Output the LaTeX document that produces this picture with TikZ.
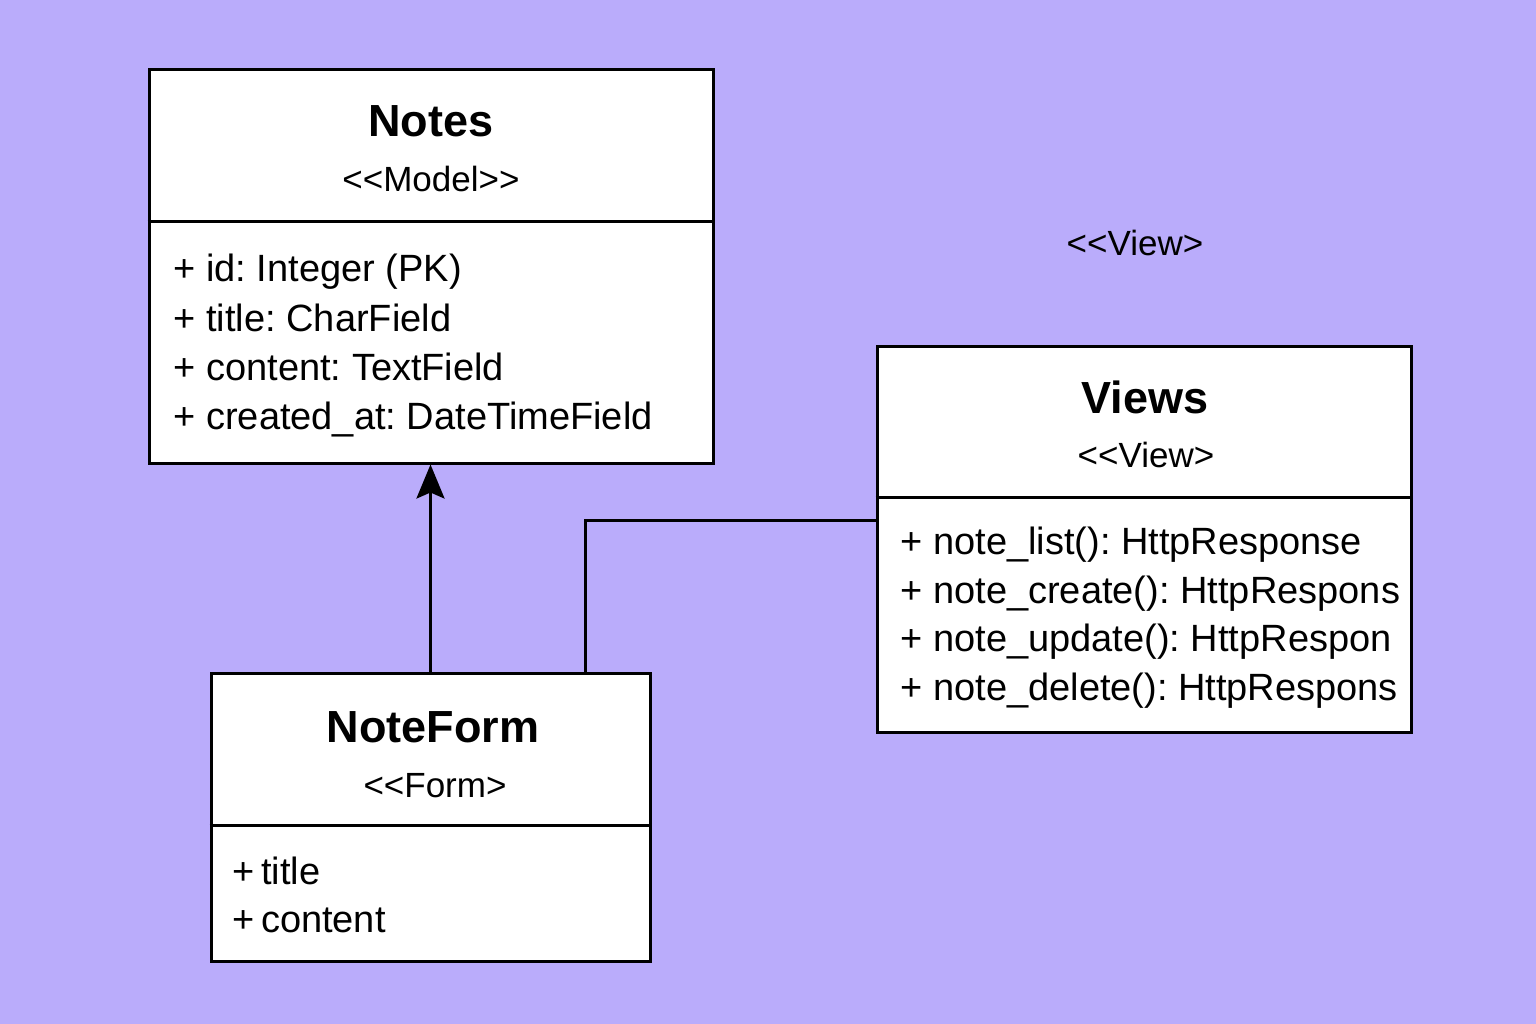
\documentclass[tikz,border=0pt]{standalone}
\usepackage{fontspec}
\setmainfont{Liberation Sans}
\usetikzlibrary{arrows.meta}
\definecolor{lilac}{RGB}{186,172,251}
\frenchspacing
\tikzset{classbox/.style={draw, fill=white, line width=3pt, inner sep=0pt},
         cname/.style={anchor=base, font=\fontsize{45}{54}\bfseries},
         stereo/.style={anchor=base, font=\fontsize{35}{42}\selectfont},
         member/.style={anchor=base west, font=\fontsize{38}{46}\selectfont},
         link/.style={line width=3pt},
         gen/.style={link, -{Stealth[length=34pt,width=28pt,inset=6pt]}}
        }

\begin{document}
\begin{tikzpicture}[x=1pt,y=-1pt]
\fill[lilac] (0,0) rectangle (1536,1024);
% class boxes
\node[classbox, minimum width=564pt, minimum height=393pt] (notes) at (431,266.5) {};
\node[classbox, minimum width=534pt, minimum height=386pt] (views) at (1144,539) {};
\node[classbox, minimum width=439pt, minimum height=288pt] (form) at (430.5,817) {};
\draw[link] (notes.west |- 0,222) -- (notes.east |- 0,222);
\draw[link] (views.west |- 0,497) -- (views.east |- 0,497);
\draw[link] (form.west |- 0,825) -- (form.east |- 0,825);
% Notes
\node[cname] (notesname) at (431,137) {Notes};
\node[stereo] (notesst) at (431,191.5) {<\kern0pt<Model>\kern0pt>};
\node[member] (notesid) at (170,282) {+ id: Integer (PK)};
\node[member] (notestitle) at (170,331) {+ title: CharField};
\node[member] (notescontent) at (170,380) {+ content: TextField};
\node[member] (notescreated) at (170,429) {+ created\_at: DateTimeField};
% Views
\node[stereo] (viewsfree) at (1135,255.5) {<\kern0pt<View>};
\node[cname] (viewsname) at (1145,413.5) {Views};
\node[stereo] (viewsst) at (1146,467.5) {<\kern0pt<View>};
\node[member] (viewslist) at (897,554.5) {+ note\_list(): HttpResponse};
\node[member] (viewscreate) at (897,603.5) {+ note\_create(): HttpRespons};
\node[member] (viewsupdate) at (897,651.5) {+ note\_update(): HttpRespon};
\node[member] (viewsdelete) at (897,700.5) {+ note\_delete(): HttpRespons};
% NoteForm
\node[cname] (formname) at (433,742) {NoteForm};
\node[stereo] (formst) at (435,797.5) {<\kern0pt<Form>};
\node[member] (formtitle) at (229,884.5) {+\,title};
\node[member] (formcontent) at (229,932.5) {+\,content};
% connectors
\draw[gen] (form.north) -- (form.north |- notes.south);
\draw[link] (form.north -| 585,0) |- (views.west |- 0,520);
\end{tikzpicture}
\end{document}
